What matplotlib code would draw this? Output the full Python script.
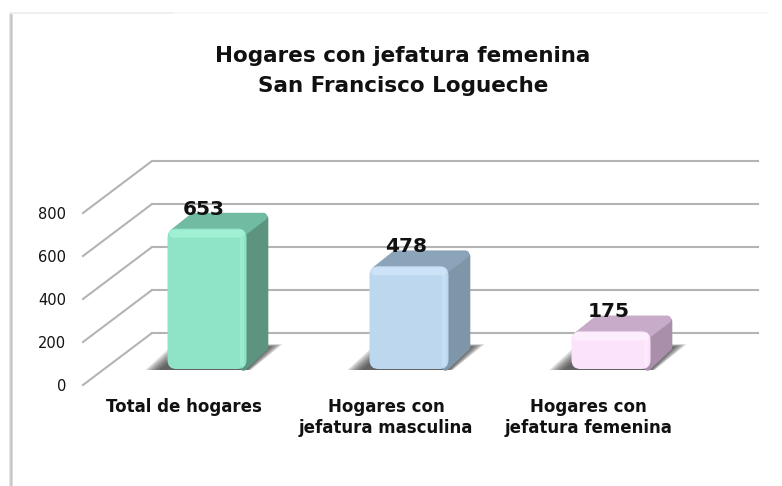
# Hogares con jefatura femenina, fake 3D bars on a plain axes
import matplotlib

matplotlib.use("Agg")
from matplotlib import pyplot as plt
from matplotlib.patches import FancyBboxPatch, Polygon, Rectangle

# Data
categories = ["Total de hogares", "Hogares con\njefatura masculina", "Hogares con\njefatura femenina"]
values = [653, 478, 175]
y_ticks = [0, 200, 400, 600, 800]

face_colors = ["#8FE3C6", "#BDD7EE", "#FBE3FB"]
light_colors = ["#A6F7DA", "#D2E8FB", "#FFF2FF"]
top_colors = ["#70BBA1", "#8CA4B9", "#C8ABC8"]
side_colors = ["#5C947F", "#7F95A8", "#A98FA9"]

W, H = 782, 486
fig = plt.figure(figsize=(W / 100, H / 100), dpi=100, facecolor="white")
plt.rcParams["font.family"] = "DejaVu Sans"

# Front plane of the chart box, in pixels
ax_left, ax_bottom_px, ax_w, ax_h = 83, 385, 606, 172
ax = fig.add_axes([ax_left / W, (H - ax_bottom_px) / H, ax_w / W, ax_h / H])
ax.set_xlim(-0.5, 2.5)
ax.set_ylim(0, 800)
ax.patch.set_visible(False)
for s in ax.spines.values():
    s.set_visible(False)

# Pixel to data conversion
px_x = 3 / ax_w
px_y = 800 / ax_h

# Walls and gridlines
grid_color = "#B4B4B4"
wall_dx, wall_dy = 69 * px_x, 52 * px_y
for t in y_ticks:
    ax.plot([-0.5, -0.5 + wall_dx], [t, t + wall_dy], color=grid_color, lw=1.5, clip_on=False, zorder=1)
    ax.plot([-0.5 + wall_dx, 2.5 + wall_dx], [t + wall_dy, t + wall_dy], color=grid_color, lw=1.5, clip_on=False, zorder=1)

ax.set_yticks(y_ticks)
ax.set_yticklabels([str(t) for t in y_ticks], fontsize=10.5, color="#111111")
ax.set_xticks(range(len(categories)))
ax.set_xticklabels(categories, fontsize=12, fontweight="bold", color="#111111", linespacing=1.25)
ax.tick_params(axis="both", length=0)
ax.tick_params(axis="y", pad=12)
ax.tick_params(axis="x", pad=9)

# Bars
bar_w = 79 * px_x
floor_dx, floor_dy = 23 * px_x, 16 * px_y
depth_x = 22 * px_x
depth_bot, depth_top = 22 * px_y, 16 * px_y

for i, v in enumerate(values):
    x0 = i + floor_dx - bar_w / 2
    x1 = x0 + bar_w
    y0 = floor_dy
    y1 = floor_dy + v

    # shadow, stacked layers fading out from the bar
    for grow in range(14, -1, -2):
        g = grow * px_x
        shadow = Polygon(
            [
                (x0 - 8 * px_x - g, y0 - 1 * px_y),
                (x1 + g * 0.3, y0 - 1 * px_y),
                (x1 + 22 * px_x + g, y0 + 22 * px_y + grow * 0.2 * px_y),
                (x0 + 20 * px_x - g, y0 + 22 * px_y + grow * 0.2 * px_y),
            ],
            closed=True, facecolor="#333333", edgecolor="none", alpha=0.16, zorder=2, clip_on=False,
        )
        ax.add_patch(shadow)

    # side face
    ax.add_patch(Polygon(
        [(x1 - 3 * px_x, y0 + 2 * px_y), (x1 + depth_x - 4 * px_x, y0 + depth_bot), (x1 + depth_x - 4 * px_x, y1 + depth_top - 6 * px_y), (x1 - 3 * px_x, y1 - 6 * px_y)],
        closed=True, facecolor=side_colors[i], edgecolor=side_colors[i], lw=5.5, joinstyle="round", zorder=3, clip_on=False,
    ))
    # top face
    ax.add_patch(Polygon(
        [(x0 + 6 * px_x, y1 - 4 * px_y), (x0 + depth_x + 4 * px_x, y1 + depth_top - 4 * px_y), (x1 + depth_x - 5 * px_x, y1 + depth_top - 4 * px_y), (x1 - 4 * px_x, y1 - 4 * px_y)],
        closed=True, facecolor=top_colors[i], edgecolor=top_colors[i], lw=5.5, joinstyle="round", zorder=4, clip_on=False,
    ))
    # front face
    ax.add_patch(FancyBboxPatch(
        (x0, y0), bar_w, v, boxstyle=f"round,pad=0,rounding_size={9 * px_x}", mutation_aspect=px_y / px_x,
        facecolor=face_colors[i], edgecolor="none", zorder=5, clip_on=False,
    ))
    # highlights along top and right of the front face
    ax.add_patch(FancyBboxPatch(
        (x0 + 2 * px_x, y1 - 9 * px_y), bar_w - 4 * px_x, 8 * px_y, boxstyle=f"round,pad=0,rounding_size={4 * px_x}", mutation_aspect=px_y / px_x,
        facecolor=light_colors[i], edgecolor="none", alpha=0.75, zorder=6, clip_on=False,
    ))
    ax.add_patch(Rectangle(
        (x1 - 7 * px_x, y0 + 3 * px_y), 4 * px_x, v - 12 * px_y,
        facecolor=light_colors[i], edgecolor="none", alpha=0.45, zorder=6, clip_on=False,
    ))
    # value label
    ax.annotate(str(v), xy=(i + floor_dx, y1), xytext=(-2, 14), textcoords="offset points", ha="center", va="center",
                fontsize=14.5, fontweight="bold", color="#111111", zorder=8, annotation_clip=False)

# Title
fig.text(403 / W, 1 - 71 / H, "Hogares con jefatura femenina\nSan Francisco Logueche", ha="center", va="center",
         fontsize=15.5, fontweight="bold", color="#111111", linespacing=1.6)

# Frame with soft shadow on the left and top
for off, col in [(0, "#E6E6E6"), (1, "#CFCFCF"), (2, "#C4C4C4"), (3, "#DEDEDE")]:
    fig.add_artist(Rectangle(((9 + off) / W, 0), 1 / W, 1 - 13 / H, transform=fig.transFigure, facecolor=col, edgecolor="none"))
fig.add_artist(Rectangle((9 / W, 1 - 14 / H), 165 / W, 2 / H, transform=fig.transFigure, facecolor="#EFEFEF", edgecolor="none"))
fig.add_artist(Rectangle((174 / W, 1 - 14 / H), 595 / W, 2 / H, transform=fig.transFigure, facecolor="#F7F7F7", edgecolor="none"))

fig.savefig("out.png", dpi=100)
